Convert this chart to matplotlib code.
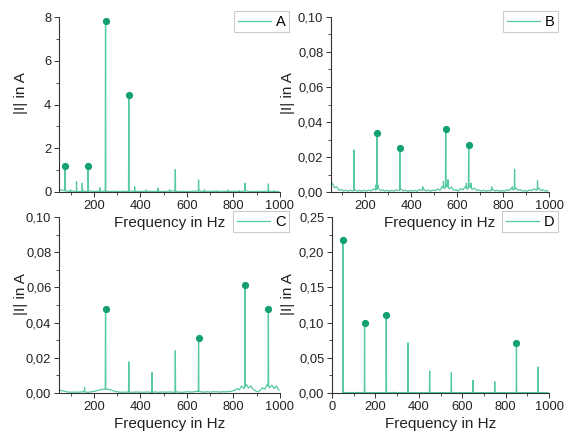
import numpy as np
import matplotlib
matplotlib.use("Agg")
import matplotlib.pyplot as plt
from matplotlib.ticker import MultipleLocator, FuncFormatter

plt.rcParams["font.family"] = ["Liberation Sans", "DejaVu Sans"]

# ── Data ───────────────────────────────────────────────────────────────────────
peak_freq_a = [75, 100, 125, 150, 175, 225, 250, 350, 375, 425, 475, 525, 550,
               650, 675, 725, 775, 825, 850, 950, 975]
peak_amp_a = [1.2, 0.1, 0.47, 0.4, 1.17, 0.2, 7.8, 4.42, 0.25, 0.1, 0.18, 0.1,
              1.03, 0.55, 0.1, 0.06, 0.1, 0.06, 0.4, 0.37, 0.06]
dot_freq_a = [75, 175, 250, 350]

peak_freq_b = [150, 245, 250, 255, 350, 450, 540, 550, 560, 640, 650, 660,
               750, 840, 850, 950]
peak_amp_b = [0.024, 0.004, 0.034, 0.004, 0.025, 0.003, 0.006, 0.036, 0.007,
              0.005, 0.027, 0.005, 0.003, 0.003, 0.013, 0.0065]
dot_freq_b = [250, 350, 550, 650]

peak_freq_c = [160, 250, 350, 450, 550, 650, 850, 950]
peak_amp_c = [0.003, 0.048, 0.0177, 0.0116, 0.024, 0.031, 0.0615, 0.048]
dot_freq_c = [250, 650, 850, 950]

peak_freq_d = [50, 150, 250, 350, 450, 550, 650, 750, 850, 950]
peak_amp_d = [0.218, 0.1, 0.111, 0.0713, 0.031, 0.029, 0.018, 0.016, 0.071, 0.037]
dot_freq_d = [50, 150, 250, 850]

# noise floor, sampled every 10 Hz from 55 to 995 Hz
noise_freq = list(range(55, 1000, 10))
noise_a = [x * 0.01 for x in [
    10, 8, 6, 4, 3, 5, 3, 4, 2, 3, 4, 2, 3, 5, 3, 2, 4, 3, 2, 4,
    3, 2, 3, 4, 2, 3, 2, 4, 3, 2, 5, 3, 2, 3, 4, 2, 3, 2, 4, 3,
    2, 3, 4, 2, 3, 2, 4, 3, 5, 4, 3, 2, 3, 4, 2, 3, 2, 4, 3, 4,
    5, 3, 2, 3, 2, 4, 3, 2, 3, 2, 4, 3, 2, 3, 2, 4, 3, 2, 3, 4,
    5, 3, 2, 3, 2, 4, 3, 2, 3, 4, 3, 2, 3, 2, 2]]
noise_b = [x * 1e-4 for x in [
    50, 25, 30, 10, 14, 6, 11, 5, 10, 6, 12, 5, 9, 4, 10, 5, 11, 6, 18, 12,
    22, 8, 12, 5, 10, 4, 9, 5, 12, 8, 16, 6, 10, 4, 9, 5, 10, 4, 14, 8,
    16, 6, 11, 5, 12, 7, 18, 10, 30, 20, 40, 18, 28, 10, 14, 6, 20, 12, 30, 15,
    38, 14, 22, 8, 12, 5, 10, 4, 9, 6, 16, 6, 10, 4, 9, 5, 12, 8, 20, 12,
    24, 10, 14, 5, 9, 4, 12, 8, 18, 10, 22, 9, 12, 5, 8]]
noise_c = [x * 1e-4 for x in [
    15, 12, 10, 6, 5, 4, 6, 4, 5, 6, 8, 5, 4, 6, 8, 10, 14, 18, 20, 22,
    22, 20, 16, 12, 8, 6, 4, 5, 4, 6, 5, 4, 5, 6, 4, 5, 4, 6, 5, 4,
    5, 6, 4, 5, 6, 4, 5, 6, 5, 4, 6, 5, 4, 5, 6, 7, 5, 6, 8, 10,
    8, 6, 5, 7, 6, 5, 8, 6, 7, 5, 8, 6, 9, 8, 12, 15, 25, 18, 40, 25,
    50, 28, 40, 20, 12, 6, 15, 30, 22, 50, 30, 45, 25, 40, 15]]
noise_d = [x * 1e-4 for x in [
    6, 5, 8, 5, 6, 7, 5, 6, 5, 6, 7, 5, 6, 5, 6, 5, 7, 5, 6, 5,
    6, 5, 6, 8, 5, 6, 5, 7, 5, 6, 5, 6, 5, 7, 5, 6, 5, 6, 5, 7,
    5, 6, 5, 6, 5, 7, 5, 6, 5, 6, 5, 7, 5, 6, 5, 6, 5, 7, 5, 6,
    5, 6, 5, 7, 5, 6, 5, 6, 5, 7, 5, 6, 5, 6, 5, 7, 5, 6, 5, 6,
    5, 7, 5, 6, 5, 6, 5, 7, 5, 6, 5, 6, 5, 7, 5]]

C_LINE = "#55c9a2"
C_DOT = "#13a072"


def spectrum(peak_f, peak_a, noise_a):
    # merge noise floor and narrow spikes into one sorted trace
    pts = list(zip(noise_freq, noise_a))
    for f, a in zip(peak_f, peak_a):
        base = float(np.interp(f, noise_freq, noise_a))
        pts += [(f - 1.2, base), (f, a), (f + 1.2, base)]
    pts.sort()
    return np.array([p[0] for p in pts]), np.array([p[1] for p in pts])


def comma(fmt):
    return FuncFormatter(lambda v, pos: (fmt % v).replace(".", ","))


fig = plt.figure(figsize=(5.66, 4.32), dpi=100)
W, H = 566, 432

panels = [
    # label, peaks, amps, dots, noise, (left, top, right, bottom px), ylabel x px, xlim, ylim, ystep, fmt
    ("A", peak_freq_a, peak_amp_a, dot_freq_a, noise_a, (59, 17, 280, 192), 21, (50, 1000), (0, 8), 2, "%d"),
    ("B", peak_freq_b, peak_amp_b, dot_freq_b, noise_b, (331, 17, 549, 192), 288, (50, 1000), (0, 0.10), 0.02, "%.2f"),
    ("C", peak_freq_c, peak_amp_c, dot_freq_c, noise_c, (59, 217, 280, 393), 21, (50, 1000), (0, 0.10), 0.02, "%.2f"),
    ("D", peak_freq_d, peak_amp_d, dot_freq_d, noise_d, (332, 217, 549, 393), 288, (0, 1000), (0, 0.25), 0.05, "%.2f"),
]

for lab, pf, pa, dots, nz, (l, t, r, b), ylx, xlim, ylim, ystep, fmt in panels:
    ax = fig.add_axes([l / W, 1 - b / H, (r - l) / W, (b - t) / H])
    ax.patch.set_visible(False)
    x, y = spectrum(pf, pa, nz)
    ax.plot(x, y, color=C_LINE, lw=0.9, label=lab)
    dot_a = [pa[pf.index(f)] for f in dots]
    ax.plot(dots, dot_a, "o", color=C_DOT, ms=4.2, zorder=4)

    ax.set_xlim(*xlim)
    ax.set_ylim(*ylim)
    ax.xaxis.set_major_locator(MultipleLocator(200))
    ax.xaxis.set_minor_locator(MultipleLocator(100))
    ax.yaxis.set_major_locator(MultipleLocator(ystep))
    ax.yaxis.set_minor_locator(MultipleLocator(ystep / 2))
    ax.yaxis.set_major_formatter(comma(fmt))
    ax.spines["top"].set_visible(False)
    ax.spines["right"].set_visible(False)
    for s in ("left", "bottom"):
        ax.spines[s].set_linewidth(0.8)
        ax.spines[s].set_color("#333333")
    ax.tick_params(which="major", direction="out", length=3.5, width=0.7,
                   labelsize=9.3, pad=2, colors="#333333", labelcolor="#222222")
    ax.tick_params(which="minor", direction="out", length=2, width=0.6,
                   colors="#333333")
    ax.set_xlabel("Frequency in Hz", fontsize=11, labelpad=3, color="#222222")
    ax.set_ylabel("|I| in A", fontsize=11, color="#222222", va="center")
    ax.yaxis.set_label_coords((ylx - l) / (r - l), 0.5 + 11 / (b - t))

    leg = ax.legend(loc="upper right", bbox_to_anchor=((r + 9) / W, 1 - (t - 6) / H),
                    bbox_transform=fig.transFigure, borderaxespad=0,
                    fontsize=10.5, handlelength=2.3, handletextpad=0.3,
                    borderpad=0.25, fancybox=False, framealpha=1)
    leg.get_frame().set_edgecolor("#cccccc")
    leg.get_frame().set_linewidth(0.8)

fig.savefig("out.png", dpi=100)
